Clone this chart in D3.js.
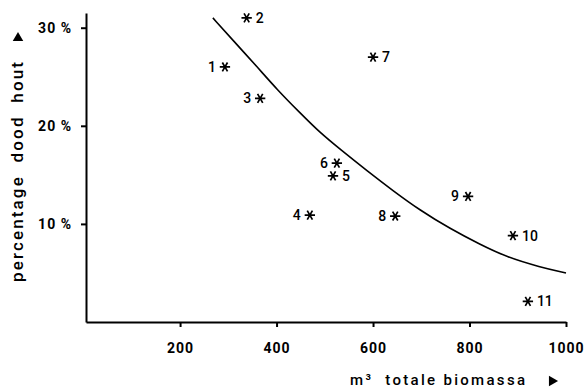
<!DOCTYPE html>
<html>
<head>
<meta charset="utf-8">
<script src="https://cdn.jsdelivr.net/npm/d3@7"></script>
<style>
  body { margin: 0; background: #fff; }
  svg { display: block; font-family: Roboto, "DejaVu Sans", sans-serif; }
</style>
</head>
<body>
<div id="chart"></div>
<script>
// plot numbers, volume (m3) and percentage dead wood
var plotIds = ["1", "2", "3", "4", "5", "6", "7", "8", "9", "10", "11"];
var biomass = [293, 338, 366, 469, 517, 525, 600, 646, 797, 890, 921];
var deadWood = [26.0, 31.0, 22.8, 10.9, 14.9, 16.2, 27.0, 10.8, 12.8, 8.8, 2.1];
var labelSide = ["l", "r", "l", "l", "r", "l", "r", "l", "l", "r", "r"];

// fitted curve
var curveX = [268, 310, 360, 401, 449, 490, 532, 588, 641, 697, 760, 822, 878, 946, 1000];
var curveY = [31.0, 28.7, 26.0, 23.7, 21.3, 19.3, 17.6, 15.4, 13.4, 11.4, 9.5, 7.9, 6.6, 5.6, 5.0];

var xTicks = [200, 400, 600, 800, 1000];
var yTicks = [10, 20, 30];

var width = 584,
    height = 389;

var x = d3.scaleLinear()
    .domain([5, 1000])
    .range([86, 566]);

var y = d3.scaleLinear()
    .domain([0, 31.5])
    .range([322, 13]);

var svg = d3.select('#chart')
    .append('svg')
    .attr('width', width)
    .attr('height', height);

// axes
svg.append('g')
    .attr('transform', 'translate(0,322)')
    .call(d3.axisBottom(x).tickValues(xTicks).tickSize(5).tickSizeOuter(0).tickPadding(16)
        .tickFormat(d3.format('d')));

svg.append('g')
    .attr('transform', 'translate(86,0)')
    .call(d3.axisLeft(y).tickValues(yTicks).tickSize(5).tickSizeOuter(0).tickPadding(9)
        .tickFormat(function (d) { return d + ' %'; }));

svg.selectAll('.domain').attr('stroke', '#000').attr('stroke-width', 2);
svg.selectAll('.tick line').attr('stroke', '#000').attr('stroke-width', 2);
svg.selectAll('.tick text')
    .attr('fill', '#000')
    .attr('font-size', 14)
    .attr('font-weight', 'bold')
    .attr('letter-spacing', 1)
    .attr('font-family', 'Roboto, sans-serif');

// fitted curve
var line = d3.line()
    .x(function (d) { return x(d[0]); })
    .y(function (d) { return y(d[1]); })
    .curve(d3.curveBasis);

svg.append('path')
    .datum(d3.zip(curveX, curveY))
    .attr('d', line)
    .attr('fill', 'none')
    .attr('stroke', '#000')
    .attr('stroke-width', 1.6);

// points
var points = plotIds.map(function (id, i) {
    return { id: id, x: biomass[i], y: deadWood[i], side: labelSide[i] };
});

var star = d3.symbol().type(d3.symbolAsterisk).size(75);

var g = svg.append('g');

g.selectAll('path.star')
    .data(points)
    .enter().append('path')
    .attr('class', 'star')
    .attr('d', star)
    .attr('transform', function (d) {
        return 'translate(' + x(d.x) + ',' + y(d.y) + ') rotate(90)';
    })
    .attr('fill', 'none')
    .attr('stroke', '#000')
    .attr('stroke-width', 1.7);

g.selectAll('text.lbl')
    .data(points)
    .enter().append('text')
    .attr('class', 'lbl')
    .attr('x', function (d) { return x(d.x) + (d.side == 'r' ? 9 : -9); })
    .attr('y', function (d) { return y(d.y); })
    .attr('dy', '0.36em')
    .attr('text-anchor', function (d) { return d.side == 'r' ? 'start' : 'end'; })
    .attr('font-size', 14)
    .attr('font-weight', 500)
    .text(function (d) { return d.id; });

// axis titles
svg.append('text')
    .attr('x', 350)
    .attr('y', 385)
    .attr('textLength', 175)
    .attr('lengthAdjust', 'spacing')
    .attr('font-size', 15)
    .attr('font-weight', 500)
    .style('white-space', 'pre')
    .text('m\u00b3  totale biomassa');

svg.append('path')
    .attr('d', d3.symbol().type(d3.symbolTriangle).size(48))
    .attr('transform', 'translate(552,381) rotate(90)')
    .attr('fill', '#000');

svg.append('text')
    .attr('transform', 'translate(23,282) rotate(-90)')
    .attr('textLength', 220)
    .attr('lengthAdjust', 'spacing')
    .attr('font-size', 17)
    .attr('font-weight', 500)
    .style('white-space', 'pre')
    .text('percentage  dood  hout');

svg.append('path')
    .attr('d', d3.symbol().type(d3.symbolTriangle).size(48))
    .attr('transform', 'translate(18,38)')
    .attr('fill', '#000');
</script>
</body>
</html>
